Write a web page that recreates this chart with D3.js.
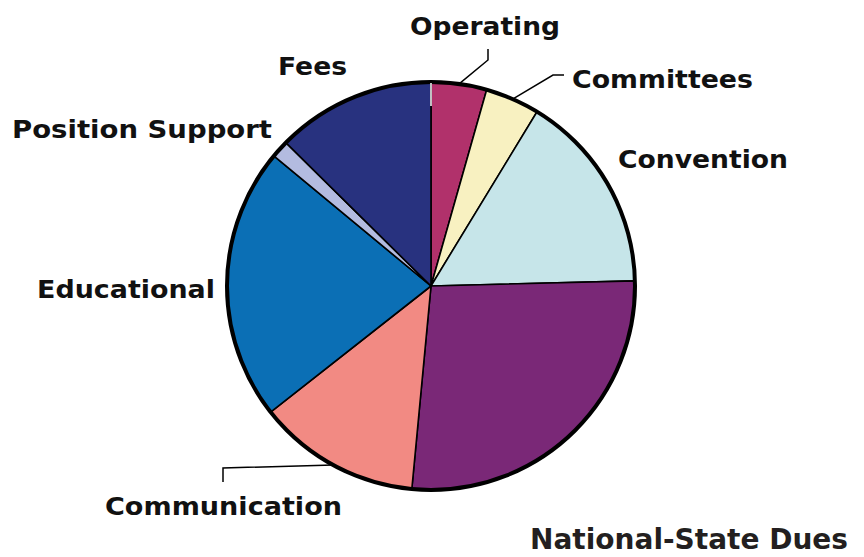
<!DOCTYPE html>
<html>
<head>
<meta charset="utf-8">
<script src="https://cdn.jsdelivr.net/npm/d3@7/dist/d3.min.js"></script>
<style>
  html, body { margin: 0; padding: 0; background: #ffffff; }
  svg { display: block; }
</style>
</head>
<body>
<script>
// ---- data (clockwise from 12 o'clock) ----
const categories = ["Operating", "Committees", "Convention", "", "Communication", "Educational", "Position Support", "Fees"];
const values     = [4.4, 4.3, 15.9, 26.9, 12.9, 21.6, 1.4, 12.6];
const colors     = ["#b1316b", "#f8f1c1", "#c6e5e9", "#7a2877", "#f28a83", "#0b6fb5", "#b3bbe0", "#28327f"];
const title      = "National-State Dues";

const W = 864, H = 557;
const cx = 431, cy = 286, R = 204;

const svg = d3.select("body").append("svg").attr("width", W).attr("height", H);

const data = categories.map((c, i) => ({ name: c, value: values[i], color: colors[i] }));
const pie = d3.pie().value(d => d.value).sort(null).startAngle(0).endAngle(2 * Math.PI);
const arcs = pie(data);
const arc = d3.arc().innerRadius(0).outerRadius(R);

const g = svg.append("g").attr("transform", `translate(${cx},${cy})`);

g.selectAll("path.slice").data(arcs).join("path")
  .attr("class", "slice")
  .attr("d", arc)
  .attr("fill", d => d.data.color)
  .attr("stroke", "#000")
  .attr("stroke-width", 1.6)
  .attr("stroke-linejoin", "round");

// outer border
g.append("circle").attr("r", R).attr("fill", "none").attr("stroke", "#000").attr("stroke-width", 4);

// small white tick at the top seam
g.append("line").attr("x1", 0).attr("x2", 0).attr("y1", -R + 1).attr("y2", -R + 24)
  .attr("stroke", "#ffffff").attr("stroke-width", 1.5);

// helper: point on rim at slice mid-angle
function rim(i) {
  const a = (arcs[i].startAngle + arcs[i].endAngle) / 2;
  return [cx + R * Math.sin(a), cy - R * Math.cos(a)];
}

// leader lines
const lead = svg.append("g").attr("fill", "none").attr("stroke", "#000").attr("stroke-width", 1.5);
const lineGen = d3.line();
lead.append("path").attr("d", lineGen([rim(0), [488, 60], [488, 49]]));
lead.append("path").attr("d", lineGen([rim(1), [553, 75], [564, 75]]));
lead.append("path").attr("d", lineGen([rim(4), [223, 468], [223, 482]]));

// labels: [index, left x, baseline y, width]
const labelPos = [
  [0, 410, 35, 150],
  [1, 572, 88, 181],
  [2, 618, 168, 170],
  [4, 105, 515, 237],
  [5, 37, 298, 178],
  [6, 12, 138, 260],
  [7, 278, 75, 69]
];
svg.append("g").selectAll("text").data(labelPos).join("text")
  .attr("x", d => d[1])
  .attr("y", d => d[2])
  .attr("textLength", d => d[3])
  .attr("lengthAdjust", "spacingAndGlyphs")
  .attr("font-family", "DejaVu Sans, Verdana, sans-serif")
  .attr("font-weight", "bold")
  .attr("font-size", 25)
  .attr("fill", "#111")
  .text(d => categories[d[0]]);

// title
svg.append("text")
  .attr("x", 848).attr("y", 549)
  .attr("text-anchor", "end")
  .attr("font-family", "DejaVu Sans, Verdana, sans-serif")
  .attr("font-weight", "bold")
  .attr("font-size", 28)
  .attr("fill", "#231f20")
  .text(title);
</script>
</body>
</html>
